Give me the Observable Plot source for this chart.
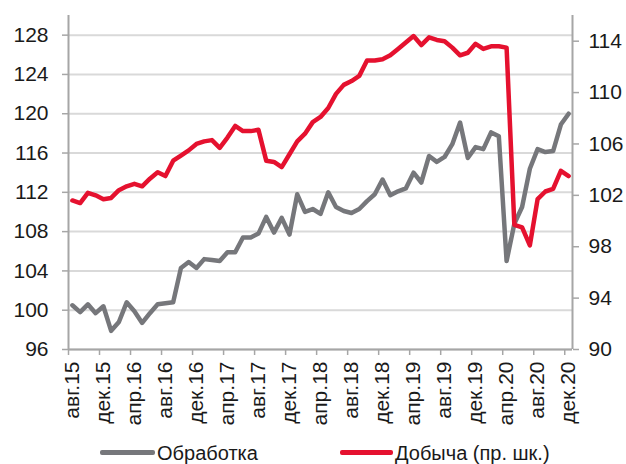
<!DOCTYPE html>
<html>
<head>
<meta charset="utf-8">
<script src="https://cdn.jsdelivr.net/npm/d3@7"></script>
<script src="https://cdn.jsdelivr.net/npm/@observablehq/plot@0.6"></script>
<style>
  body { margin: 0; background: #fff; font-family: "Liberation Sans", Arial, sans-serif; }
  #wrap { position: relative; width: 626px; height: 464px; overflow: hidden; }
  .sw { position: absolute; height: 5px; border-radius: 2px; }
  .lt { position: absolute; font-size: 20px; line-height: 24px; color: #1a1a1a; white-space: nowrap; }
</style>
</head>
<body>
<div id="wrap">
  <div id="chart"></div>
</div>
<script>
// Month labels (every 4th month, starting авг.15)
const tickLabels = ["авг.15","дек.15","апр.16","авг.16","дек.16","апр.17","авг.17","дек.17","апр.18","авг.18","дек.18","апр.19","авг.19","дек.19","апр.20","авг.20","дек.20"];

// Обработка (left axis), monthly авг.15 – дек.20
const obrabotka = [
  100.5, 99.8, 100.6, 99.7, 100.4, 97.9, 98.8, 100.8, 99.9, 98.7,
  99.7, 100.6, 100.7, 100.8, 104.3, 104.9, 104.3, 105.2, 105.1, 105.0,
  105.9, 105.9, 107.4, 107.4, 107.8, 109.5, 107.9, 109.4, 107.7, 111.8,
  110.0, 110.3, 109.8, 112.0, 110.5, 110.1, 109.9, 110.3, 111.1, 111.8,
  113.3, 111.7, 112.1, 112.4, 114.0, 113.0, 115.7, 115.1, 115.6, 116.9,
  119.1, 115.5, 116.6, 116.4, 118.1, 117.7, 105.0, 108.8, 110.5, 114.4,
  116.4, 116.1, 116.2, 118.9, 120.0
];

// Добыча (right axis), monthly авг.15 – дек.20
const dobycha = [
  101.6, 101.4, 102.2, 102.0, 101.7, 101.8, 102.4, 102.7, 102.9, 102.7,
  103.3, 103.8, 103.5, 104.7, 105.1, 105.5, 106.0, 106.2, 106.3, 105.7,
  106.5, 107.4, 107.0, 107.0, 107.1, 104.7, 104.6, 104.2, 105.2, 106.2,
  106.8, 107.7, 108.1, 108.8, 109.9, 110.6, 110.9, 111.3, 112.5, 112.5,
  112.6, 112.9, 113.4, 113.9, 114.4, 113.7, 114.3, 114.1, 114.0, 113.5,
  112.9, 113.1, 113.8, 113.4, 113.6, 113.6, 113.5, 99.7, 99.5, 98.1,
  101.7, 102.3, 102.5, 103.9, 103.5
];

const leftTicks = [96, 100, 104, 108, 112, 116, 120, 124, 128];
const rightTicks = [90, 94, 98, 102, 106, 110, 114];
const leftDomain = [96, 130];
const rightDomain = [90, 116];

const seriesNames = ["Обработка", "Добыча (пр. шк.)"];
const colors = ["#76777b", "#e5112f"];

// map right-axis values onto the left scale
const k = (leftDomain[1] - leftDomain[0]) / (rightDomain[1] - rightDomain[0]);
const toLeft = v => leftDomain[0] + (v - rightDomain[0]) * k;
const fromLeft = y => rightDomain[0] + (y - leftDomain[0]) / k;

const n = obrabotka.length;
const gData = obrabotka.map((v, i) => ({i: i + 0.5, v}));
const rData = dobycha.map((v, i) => ({i: i + 0.5, v: toLeft(v)}));
const boundaries = d3.range(0, n, 4);
const labelPos = boundaries.map(b => b + 0.5);
const labelMap = new Map(labelPos.map((p, j) => [p, tickLabels[j]]));

const axisColor = "#a6a6a6";

const chart = Plot.plot({
  width: 626,
  height: 432,
  marginLeft: 68,
  marginRight: 54,
  marginTop: 15,
  marginBottom: 83,
  style: {fontFamily: "'Liberation Sans', Arial, sans-serif", fontSize: "21px", color: "#1a1a1a", background: "#fff"},
  x: {domain: [0, n]},
  y: {domain: leftDomain},
  marks: [
    Plot.gridY(leftTicks, {stroke: "#d9d9d9", strokeOpacity: 1, strokeWidth: 2}),
    Plot.axisY(leftTicks, {anchor: "left", tickSize: 6, tickPadding: 14, label: null, stroke: axisColor, strokeWidth: 1.5, fontSize: 21}),
    Plot.axisY(rightTicks.map(toLeft), {anchor: "right", tickSize: 6, tickPadding: 10, label: null, stroke: axisColor, strokeWidth: 1.5, fontSize: 21, tickFormat: d => Math.round(fromLeft(d))}),
    Plot.axisX(boundaries, {anchor: "bottom", tickSize: 6, tickFormat: () => "", label: null, stroke: axisColor, strokeWidth: 1.5}),
    Plot.axisX(labelPos, {anchor: "bottom", tickSize: 0, tickPadding: 12, tickRotate: -90, label: null, fontSize: 21, tickFormat: d => labelMap.get(d)}),
    Plot.ruleX([0, n], {stroke: axisColor, strokeWidth: 2}),
    Plot.ruleY([leftDomain[0]], {stroke: axisColor, strokeWidth: 2}),
    Plot.line(gData, {x: "i", y: "v", stroke: colors[0], strokeWidth: 4.5, strokeLinejoin: "round"}),
    Plot.line(rData, {x: "i", y: "v", stroke: colors[1], strokeWidth: 4.5, strokeLinejoin: "round"})
  ]
});
document.getElementById("chart").appendChild(chart);

// legend
const wrap = document.getElementById("wrap");
const legendItems = [
  {name: seriesNames[0], color: colors[0], sx: 100, sw: 55, tx: 157},
  {name: seriesNames[1], color: colors[1], sx: 340, sw: 53, tx: 395}
];
for (const it of legendItems) {
  const s = document.createElement("div");
  s.className = "sw";
  s.style.left = it.sx + "px"; s.style.top = "450px"; s.style.width = it.sw + "px"; s.style.background = it.color;
  wrap.appendChild(s);
  const t = document.createElement("div");
  t.className = "lt";
  t.style.left = it.tx + "px"; t.style.top = "441px";
  t.textContent = it.name;
  wrap.appendChild(t);
}
</script>
</body>
</html>
